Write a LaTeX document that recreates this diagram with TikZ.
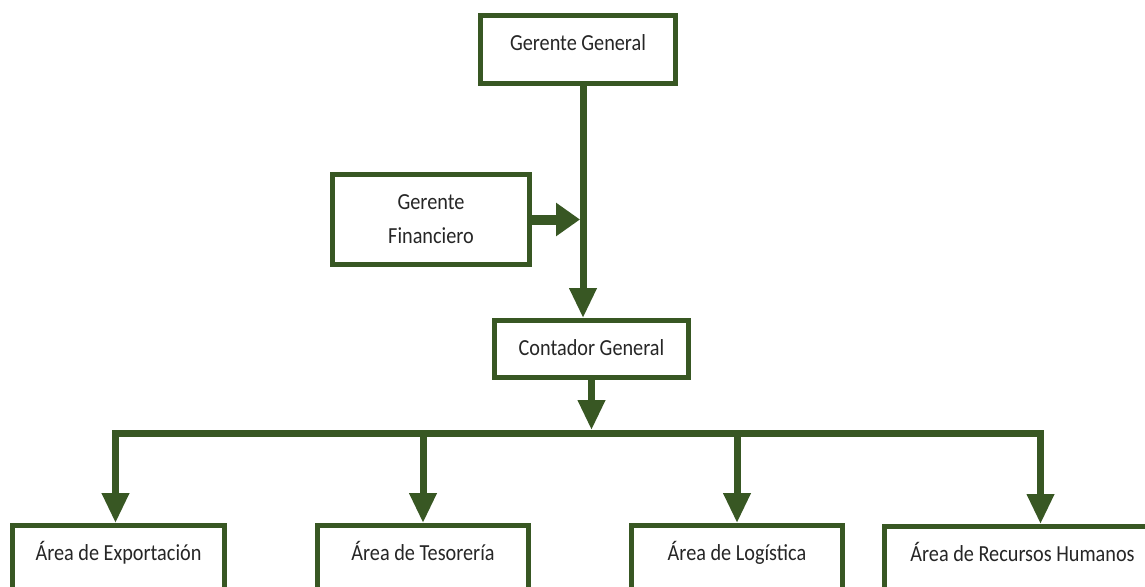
\documentclass[tikz,border=0pt]{standalone}
\usepackage{fontspec}
\setmainfont{Carlito}[FakeStretch=0.88]
\usetikzlibrary{arrows.meta}
\definecolor{orgGreen}{RGB}{56,87,35}

\begin{document}
\begin{tikzpicture}[x=1pt, y=-1pt,
		box/.style = {draw=orgGreen, line width=5pt, fill=white, inner xsep=4pt, font=\fontsize{23}{34}\selectfont, text=black!85},
		topbox/.style = {box, anchor=north, inner ysep=0pt, text height=35pt},
		conn/.style = {draw=orgGreen, line width=7pt, line join=miter, -{Triangle[length=30pt,width=26pt]}}]
				\path[use as bounding box, clip] (0,0) rectangle (1145,586);
				% boxes
				\node[topbox, minimum width=195pt, text depth=33pt] (gg) at (578,13) {Gerente General};
				\node[box, align=center, minimum width=197pt, minimum height=90pt] (gf) at (431,219.5) {Gerente\\Financiero};
				\node[topbox, minimum width=194pt, text depth=22pt] (cg) at (591.5,318) {Contador General};
				\node[topbox, minimum width=212pt, text depth=80pt] (exp) at (118.5,523) {Área de Exportación};
				\node[topbox, minimum width=211pt, text depth=80pt] (tes) at (423,523) {Área de Tesorería};
				\node[topbox, minimum width=211pt, text depth=80pt] (log) at (737,523) {Área de Logística};
				\node[topbox, minimum width=276pt, text depth=80pt] (rh) at (1022.5,524) {Área de Recursos Humanos};
				\coordinate (trunk) at (583,0);
				\coordinate (bar) at (0,433);
				% connectors
				\draw[conn] (gg.south -| trunk) -- (cg.north -| trunk);
				\draw[conn, line width=10pt, -{Triangle[length=24pt,width=32pt]}, shorten >=3pt] (gf.east) -- (gf.east -| trunk);
				\draw[conn, shorten >=3pt] (cg.south) -- (cg.south |- bar);
				\draw[conn] (cg.south |- bar) -| ([xshift=-3pt]exp.north);
				\draw[conn] (cg.south |- bar) -| ([xshift=18pt]rh.north);
				\foreach \n in {tes,log} {
					\draw[conn] (\n.north |- bar) -- (\n.north);
				}
			\end{tikzpicture}
\end{document}
